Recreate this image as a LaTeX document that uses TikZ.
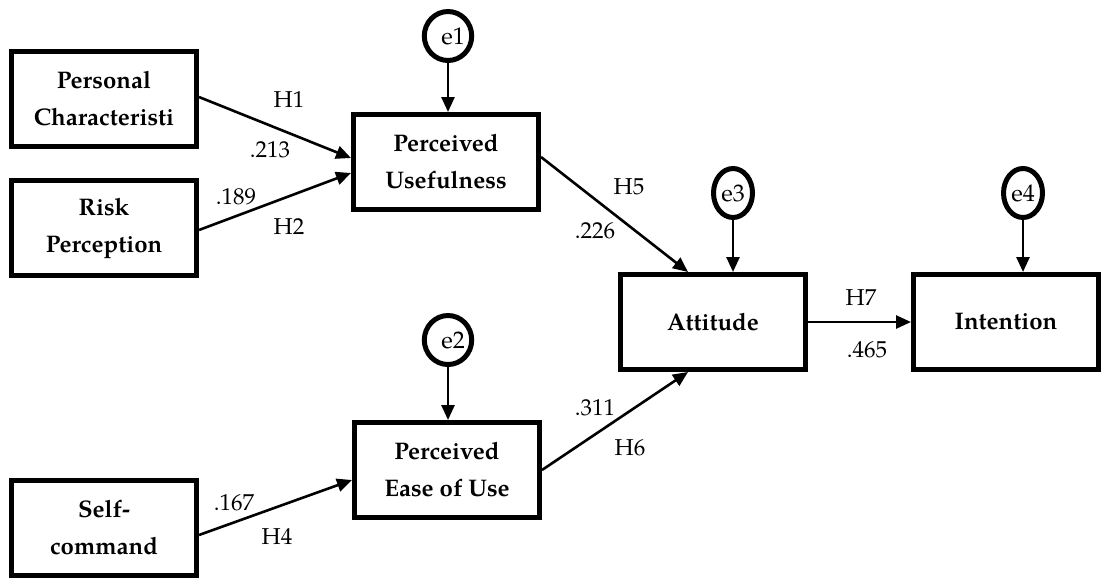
\documentclass[tikz,border=0pt]{standalone}
\usepackage{fontspec}
\setmainfont{texgyrepagella}[Extension=.otf, UprightFont=*-regular, BoldFont=*-bold]
\usepackage{tikz}
\usetikzlibrary{arrows.meta,shapes.geometric}

\begin{document}
\begin{tikzpicture}[x=0.5pt, y=-0.5pt,
  box/.style = {draw, line width=2.5pt, align=center, font=\bfseries\fontsize{12}{18.5}\selectfont, minimum width=92.5pt, minimum height=47.5pt, inner sep=0pt},
  err/.style = {draw, ellipse, line width=2.5pt, minimum width=19.5pt, minimum height=24.5pt, inner sep=0pt, font=\fontsize{12}{14}\selectfont},
  arr/.style = {line width=1.3pt, -{Triangle[length=7.5pt,width=6.5pt]}},
  lbl/.style = {font=\fontsize{11.5}{14}\selectfont, inner sep=0pt}]
\useasboundingbox (0,0) rectangle (1101,579);
\node[box] (pc) at (104,99) {Personal\\Characteristi};
\node[box] (rp) at (104,228) {Risk\\Perception};
\node[box] (sc) at (104,528) {Self-\\command};
\node[box] (pu) at (446,162) {Perceived\\Usefulness};
\node[box] (pe) at (447,470) {Perceived\\Ease of Use};
\node[box] (at) at (713,322) {Attitude};
\node[box] (in) at (1006,322) {Intention};
\node[err] (e1) at (448,36) {\hspace*{5pt}e1};
\node[err] (e2) at (448,340) {\hspace*{5pt}e2};
\node[err] (e3) at (733,193) {e3};
\node[err] (e4) at (1023,193) {e4};
\draw[arr] (e1) -- (e1 |- pu.north);
\draw[arr] (e2) -- (e2 |- pe.north);
\draw[arr] (e3) -- (e3 |- at.north);
\draw[arr] (e4) -- (e4 |- in.north);
\draw[arr] ([yshift=1pt]pc.east) -- ([yshift=2pt]pu.west);
\draw[arr] ([yshift=-1pt]rp.east) -- ([yshift=-5.5pt]pu.west);
\draw[arr] ([yshift=-3.5pt]sc.east) -- ([yshift=-5pt]pe.west);
\draw[arr] ([yshift=2.5pt]pu.east) -- ([xshift=-12.5pt]at.north);
\draw[arr] (pe.east) -- ([xshift=-12.5pt]at.south);
\draw[arr] (at.east) -- (in.west);
\node[lbl] (h1) at (289,100) {H1};
\node[lbl] (v1) at (270,150) {.213};
\node[lbl] (v2) at (236,197) {.189};
\node[lbl] (h2) at (289,227) {H2};
\node[lbl] (h5) at (629,187) {H5};
\node[lbl] (v5) at (595,231) {.226};
\node[lbl] (v6) at (595,408) {.311};
\node[lbl] (h6) at (630,448) {H6};
\node[lbl] (v4) at (234,503) {.167};
\node[lbl] (h4) at (277,537) {H4};
\node[lbl] (h7) at (861,298) {H7};
\node[lbl] (v7) at (867,350) {.465};
\end{tikzpicture}
\end{document}
